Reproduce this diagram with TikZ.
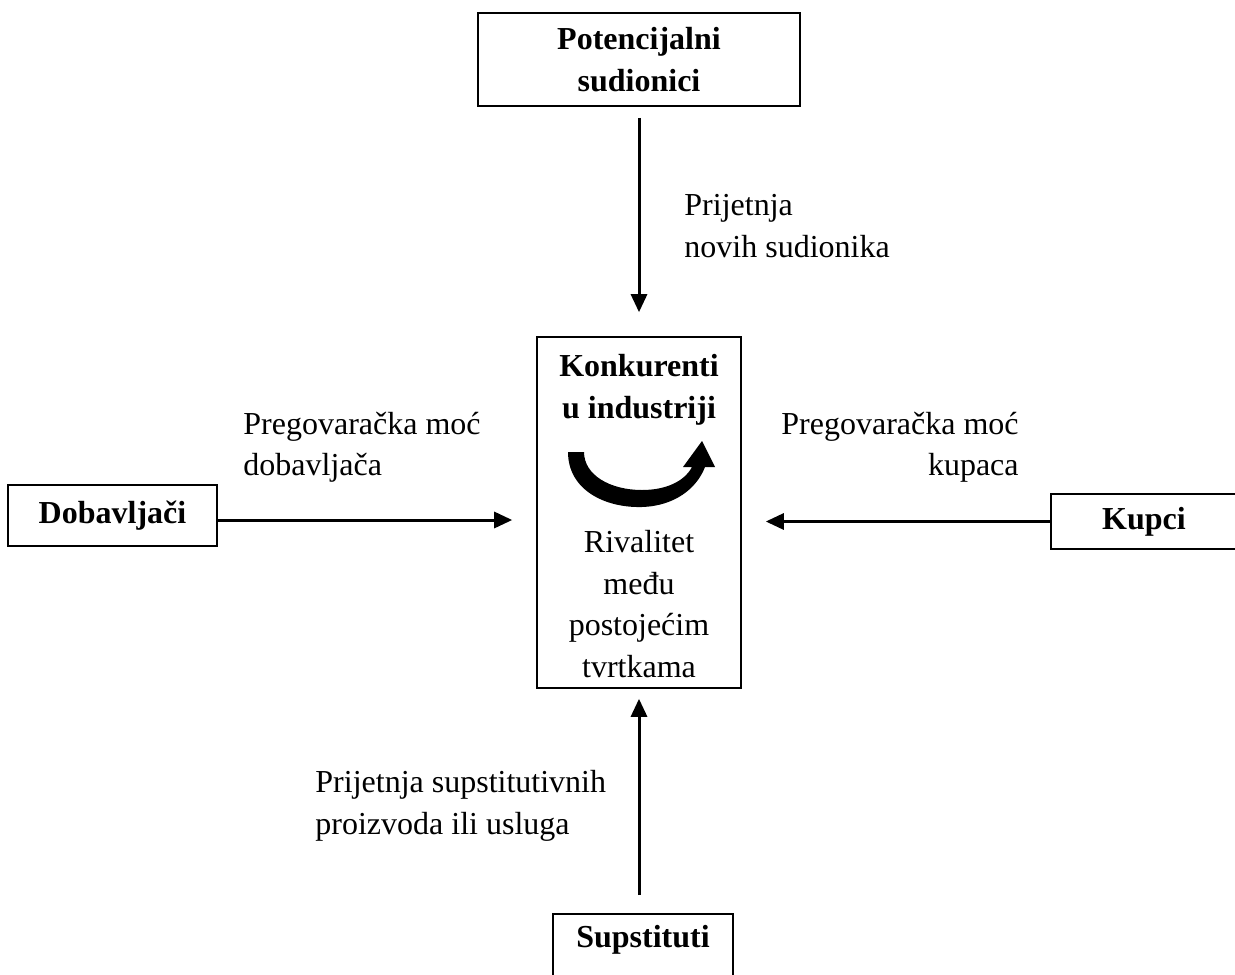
\documentclass[tikz,border=0pt]{standalone}
\usepackage{fontspec}
\setmainfont{Liberation Serif}
\usetikzlibrary{positioning,arrows.meta}

\begin{document}
\begin{tikzpicture}[x=0.5pt, y=-0.5pt,
    txt/.style={font=\fontsize{16pt}{20.75pt}\selectfont, align=left, inner sep=0pt},
    title/.style={font=\fontsize{16pt}{20.75pt}\selectfont\bfseries, align=center, inner sep=0pt},
    box/.style={title, rectangle, draw, line width=0.8pt},
    force/.style={-{Triangle[length=9pt, width=8pt]}, line width=1.5pt}]
    \useasboundingbox (0,0) rectangle (1235,974);
    \clip (0,0) rectangle (1235,974);

    \node [box, minimum width=161pt, minimum height=46.5pt] (pot) at (639,59.5) {Potencijalni\\sudionici};
    \node [box, minimum width=102pt, minimum height=175.5pt] (konk) at (639,512.5) {};
    \node [box, minimum width=104.5pt, minimum height=30.5pt] (dob) at (112.5,515.5) {Dobavljači};
    \node [box, minimum width=93pt, minimum height=27.5pt] (kup) at (1144,521.5) {Kupci};
    \node [box, anchor=north, minimum width=90pt, inner ysep=6pt, text height=11pt, text depth=20pt] (sup) at (643,913) {Supstituti};

    \node [title] (konkt) at (639,390) {Konkurenti\\u industriji};
    \node [txt, align=center] (riv) at (639,604) {Rivalitet\\među\\postojećim\\tvrtkama};

    \node [txt, anchor=west] (novi) at (684,226) {Prijetnja\\novih sudionika};
    \node [txt, anchor=west] (pdob) at (243,447.5) {Pregovaračka moć\\dobavljača};
    \node [txt, anchor=east, align=right] (pkup) at (1019,447.5) {Pregovaračka moć\\kupaca};
    \node [txt, anchor=west] (psup) at (315,806) {Prijetnja supstitutivnih\\proizvoda ili usluga};

    \draw [force, shorten <=5.5pt, shorten >=12pt] (pot.south) -- (konk.north);
    \draw [force, shorten <=9pt, shorten >=5pt] (konk.south |- sup.north) -- (konk.south);
    \draw [force, shorten >=12pt] ([yshift=-2.25pt]dob.east) -- ([yshift=-2.25pt]dob.east -| konk.west);
    \draw [force, shorten >=12pt] (kup.west) -- (kup.west -| konk.east);

    % rivalry arrow
    \fill (568,452) .. controls (568,490) and (605,508) .. (642,507)
        .. controls (675,506) and (697,488) .. (705,467) -- (715,467) -- (702,441) -- (683,467) -- (692,467)
        .. controls (684,482) and (665,490) .. (642,490)
        .. controls (610,490) and (584,475) .. (584,452) -- cycle;
\end{tikzpicture}
\end{document}
